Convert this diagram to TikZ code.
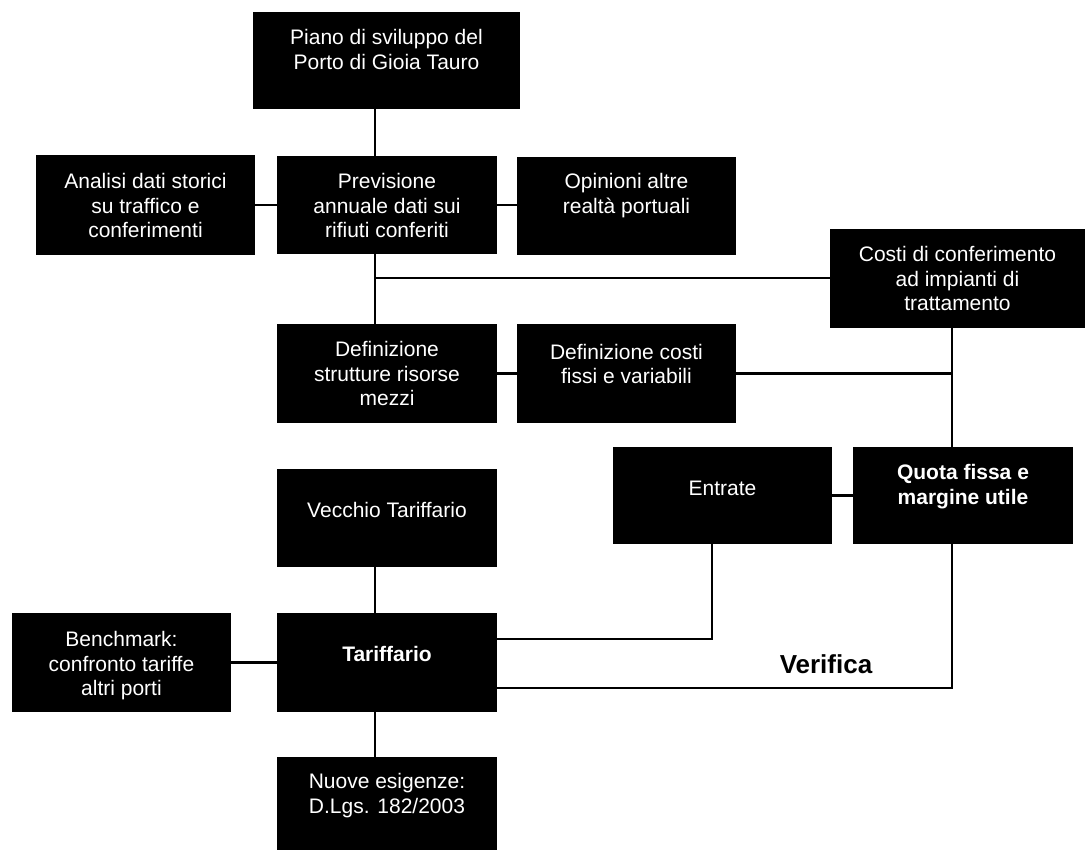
\documentclass[tikz,border=0pt]{standalone}
\usepackage{fontspec}
\setmainfont{Liberation Sans}
\tikzset{
  box/.style={rectangle, fill=black, draw=none, text=white, inner sep=0pt, outer sep=0pt,
    font=\fontsize{21}{24.5}\selectfont},
  conn/.style={draw=black, line width=2.3pt},
  verlabel/.style={font=\bfseries\fontsize{26}{30}\selectfont, inner sep=0pt}
}
% name, cx, cy, width, height, first baseline, text
\newcommand{\bx}[7]{\node[box] (#1) at (#2,#3) {\parbox[c][#5pt][t]{#4pt}{\centering\rule{0pt}{#6pt}#7}};}
\begin{document}
\begin{tikzpicture}[x=1pt,y=-1pt]
\fill[white] (0,0) rectangle (1085,850);
\useasboundingbox (0,0) rectangle (1085,850);

\bx{piano}{386.5}{60.5}{267}{97}{33}{Piano di sviluppo del\\Porto di Gioia Tauro}
\bx{analisi}{145.5}{205}{219}{100}{34}{Analisi dati storici\\su traffico e\\conferimenti}
\bx{prev}{387}{205}{220}{98}{33}{Previsione\\annuale dati sui\\rifiuti conferiti}
\bx{opin}{626.5}{206}{219}{98}{32}{Opinioni altre\\realtà portuali}
\bx{costi}{957.5}{278.5}{255}{99}{33}{Costi di conferimento\\ad impianti di\\trattamento}
\bx{defs}{387}{373.5}{220}{99}{33}{Definizione\\strutture risorse\\mezzi}
\bx{defc}{626.5}{373.5}{219}{99}{35}{Definizione costi\\fissi e variabili}
\bx{entr}{722.5}{495.5}{219}{97}{48.5}{Entrate}
\bx{quota}{963}{495.5}{220}{97}{32.5}{\bfseries Quota fissa e\\margine utile}
\bx{vecchio}{387}{518}{220}{98}{48.5}{Vecchio Tariffario}
\bx{bench}{121.5}{662.5}{219}{99}{33.5}{Benchmark:\\confronto tariffe\\altri porti}
\bx{tarif}{387}{662.5}{220}{99}{48.5}{\bfseries Tariffario}
\bx{nuove}{387}{803.5}{220}{93}{31.5}{Nuove esigenze:\\D.Lgs. 182/2003}

\coordinate (vx) at (375,0);
\coordinate (vq) at (952,0);
\coordinate (j1) at (375,278);
\coordinate (ve) at (712,639);
\coordinate (vq2) at (952,688);

\draw[conn] (piano.south -| vx) -- (prev.north -| vx);
\draw[conn] (analisi.east) -- (prev.west |- analisi.east);
\draw[conn] (prev.east) -- (opin.west |- prev.east);
\draw[conn] (prev.south -| vx) -- (defs.north -| vx);
\draw[conn] (j1) -- (costi.west |- j1);
\draw[conn] (defs.east) -- (defc.west);
\draw[conn] (defc.east) -- (defc.east -| vq);
\draw[conn] (costi.south -| vq) -- (quota.north -| vq);
\draw[conn] (entr.east) -- (quota.west);
\draw[conn] (vecchio.south -| vx) -- (tarif.north -| vx);
\draw[conn] (bench.east) -- (tarif.west);
\draw[conn] (tarif.east |- ve) -- (ve) -- (entr.south -| ve);
\draw[conn] (tarif.east |- vq2) -- (vq2) -- (quota.south -| vq2);
\draw[conn] (tarif.south -| vx) -- (nuove.north -| vx);

\node[verlabel] (ver) at (826,664) {Verifica};
\end{tikzpicture}
\end{document}
